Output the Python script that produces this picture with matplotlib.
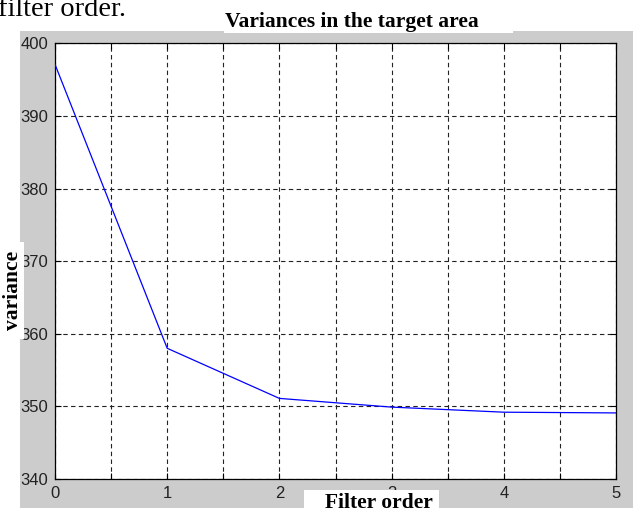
"""Variance in the target area against filter order (MATLAB-style figure)."""

import matplotlib

matplotlib.use("Agg")

from matplotlib import pyplot as plt
from matplotlib.patches import Rectangle

FIG_W, FIG_H = 633, 514
DPI = 100

filter_order = [0, 1, 2, 3, 4, 5]
variance = [397.1, 358.0, 351.1, 349.9, 349.2, 349.1]

x_ticks = [0, 0.5, 1, 1.5, 2, 2.5, 3, 3.5, 4, 4.5, 5]
x_tick_labels = ["0", "", "1", "", "2", "", "3", "", "4", "", "5"]
y_ticks = [340, 350, 360, 370, 380, 390, 400]

TITLE = "Variances in the target area"
X_LABEL = "Filter order"
Y_LABEL = "variance"
CAPTION_FRAGMENT = "filter order."

SERIF = "Liberation Serif"
SANS = "Liberation Sans"


def fx(px: float) -> float:
    return px / FIG_W


def fy(py: float) -> float:
    return 1 - py / FIG_H


def add_box(fig, x0, y0, x1, y1, color, zorder):
    fig.patches.append(
        Rectangle(
            (fx(x0), fy(y1)),
            fx(x1) - fx(x0),
            fy(y0) - fy(y1),
            transform=fig.transFigure,
            facecolor=color,
            edgecolor="none",
            zorder=zorder,
        )
    )


def main() -> None:
    fig = plt.figure(figsize=(FIG_W / DPI, FIG_H / DPI), dpi=DPI, facecolor="white")

    # grey figure window under the axes, white scan patches on top of it
    add_box(fig, 20, 31, 633, 508, "#cccccc", -1)
    add_box(fig, 224, 0, 513, 33, "white", 1)
    add_box(fig, 304, 490, 439, 514, "white", 1)
    add_box(fig, 0, 242, 24, 339, "white", 1)

    ax = fig.add_axes([fx(55), fy(479), fx(616) - fx(55), fy(43.3) - fy(479)])
    ax.set_zorder(0)
    ax.set_facecolor("white")
    ax.plot(filter_order, variance, color="#0000ff", linewidth=0.9, zorder=3)

    ax.set_xlim(0, 5)
    ax.set_ylim(340, 400)
    ax.set_xticks(x_ticks)
    ax.set_xticklabels(x_tick_labels)
    ax.set_yticks(y_ticks)
    ax.tick_params(
        direction="in", length=4, width=0.8, colors="black",
        top=True, right=True, labelsize=12, pad=5,
    )
    for label in ax.get_xticklabels() + ax.get_yticklabels():
        label.set_fontfamily(SANS)
        label.set_color("#222222")
    ax.grid(True, color="#222222", linewidth=0.8, linestyle=(0, (4, 3)))
    for spine in ax.spines.values():
        spine.set_linewidth(0.9)
        spine.set_color("black")

    fig.text(fx(225), fy(27), TITLE, fontfamily=SERIF, fontweight="bold",
             fontsize=15.5, ha="left", va="baseline", zorder=3)
    fig.text(fx(379), fy(508), X_LABEL, fontfamily=SERIF, fontweight="bold",
             fontsize=15.5, ha="center", va="baseline", zorder=3)
    fig.text(fx(13), fy(290), Y_LABEL, fontfamily=SERIF, fontweight="bold",
             fontsize=15.5, ha="center", va="center", rotation=90, zorder=3)
    fig.text(fx(-2), fy(16.5), CAPTION_FRAGMENT, fontfamily=SERIF,
             fontsize=20.5, ha="left", va="baseline", zorder=3)

    fig.savefig("out.png", dpi=DPI)
    plt.close(fig)


if __name__ == "__main__":
    main()
